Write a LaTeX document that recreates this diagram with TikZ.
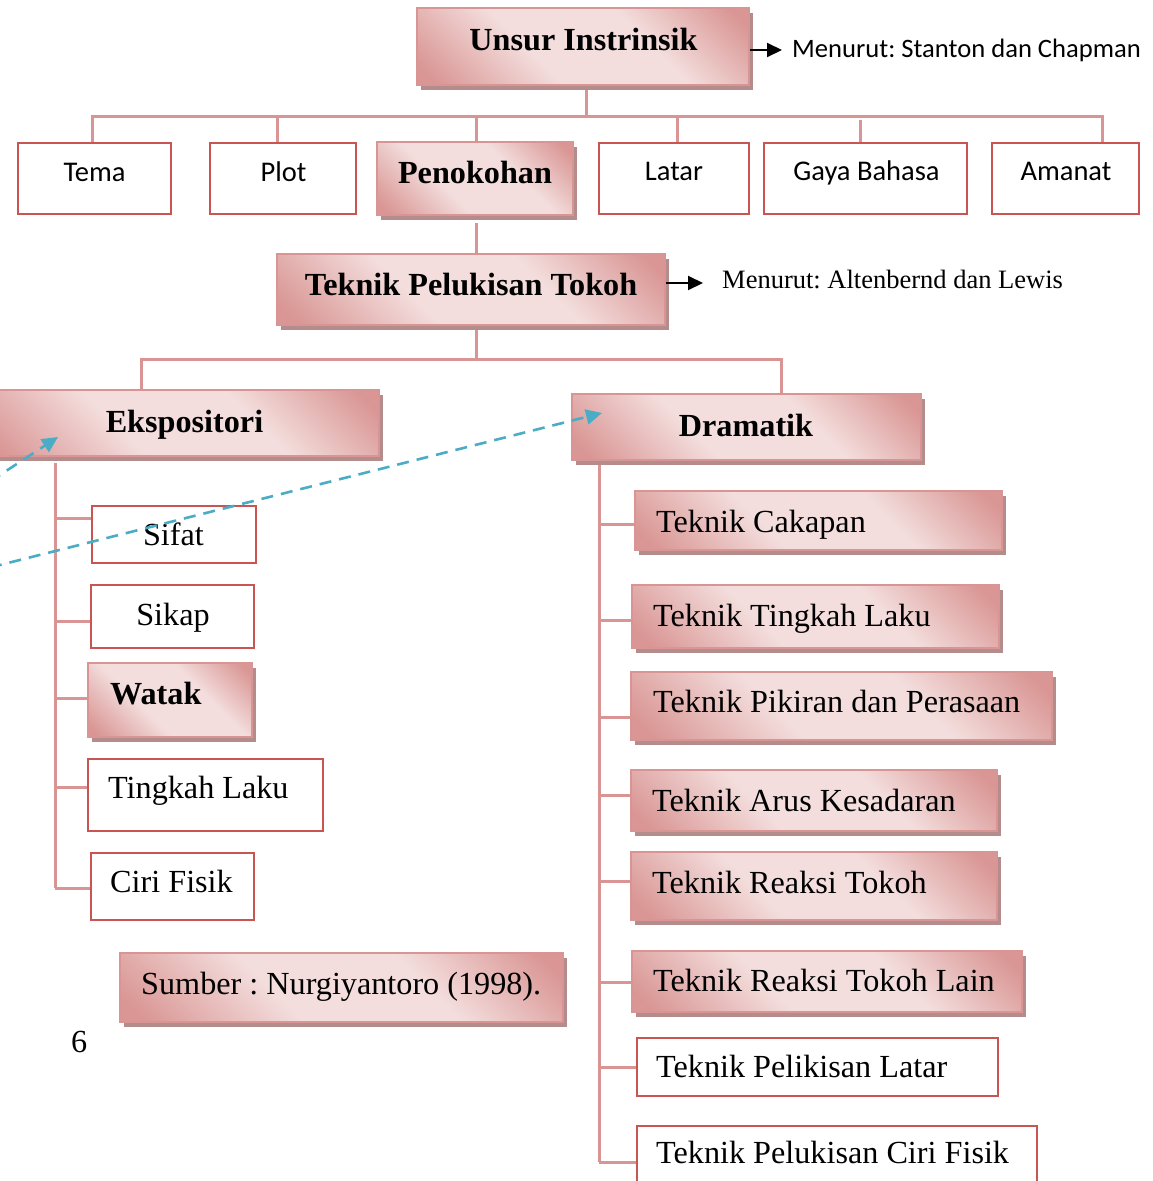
\documentclass[tikz,border=0pt]{standalone}
\usepackage{fontspec}
\setmainfont{Liberation Serif}
\newfontfamily\calib{Carlito}
\usetikzlibrary{fit,arrows.meta}
\definecolor{pkd}{RGB}{217,150,148}
\definecolor{pkl}{RGB}{243,222,221}
\definecolor{pkb}{RGB}{217,149,148}
\definecolor{shc}{RGB}{180,140,140}
\definecolor{cn}{RGB}{217,149,148}
\definecolor{pr}{RGB}{200,85,82}
\definecolor{bl}{RGB}{75,172,198}
\pgfdeclareverticalshading{pinkgrad}{100bp}{color(0bp)=(pkd); color(18bp)=(pkd); color(40bp)=(pkl); color(62bp)=(pkl); color(82bp)=(pkd); color(100bp)=(pkd)}
\pgfdeclarelayer{background}
\pgfsetlayers{background,main}
\newcommand\shbox[5]{\fill[shd] ({#2+4},{#3+5}) rectangle ({#4+4},{#5+5});
  \node[sbox, fit={(#2,#3) (#4,#5)}] (#1) {};}
\newcommand\plbox[5]{\node[pbox, fit={(#2,#3) (#4,#5)}] (#1) {};}
\frenchspacing
\begin{document}
\begin{tikzpicture}[x=1pt,y=-1pt,
  conn/.style={draw=cn, line width=3pt},
  pbox/.style={draw=pr, line width=1.3pt, fill=white, inner sep=0pt},
  sbox/.style={draw=pkb, line width=2.2pt, shade, shading=pinkgrad, shading angle=-45, inner sep=0pt},
  shd/.style={fill=shc},
  ser/.style={font=\frenchspacing\fontsize{32.2}{38}\selectfont, inner sep=0pt},
  serb/.style={font=\frenchspacing\bfseries\fontsize{32.2}{38}\selectfont, inner sep=0pt},
  sern/.style={font=\frenchspacing\fontsize{26.5}{32}\selectfont, inner sep=0pt},
  cal/.style={font=\frenchspacing\calib\fontsize{28.5}{34}\selectfont, inner sep=0pt},
  caln/.style={font=\frenchspacing\calib\fontsize{26.6}{32}\selectfont, inner sep=0pt},
  blk/.style={draw=black, line width=2pt, -{Triangle[length=15pt,width=14pt]}},
  blue/.style={draw=bl, line width=2.6pt, dash pattern=on 12pt off 8pt, -{Triangle[length=16pt,width=15pt]}}]
\useasboundingbox (0,0) rectangle (1152,1181);

% boxes
\shbox{unsur}{417}{8}{749}{85}
\plbox{tema}{18}{143}{171}{214}
\plbox{plot}{210}{143}{356}{214}
\shbox{peno}{377}{142}{573}{215}
\plbox{latar}{599}{143}{749}{214}
\plbox{gaya}{764}{143}{967}{214}
\plbox{amanat}{992}{143}{1139}{214}
\shbox{tpt}{277}{254}{665}{325}
\shbox{eksp}{-20}{390}{379}{456}
\shbox{dram}{572}{394}{921}{460}
\plbox{sifat}{92}{506}{256}{563}
\plbox{sikap}{91}{585}{254}{648}
\shbox{watak}{88}{663}{252}{737}
\plbox{tingkah}{88}{759}{323}{831}
\plbox{ciri}{91}{853}{254}{920}
\shbox{sumber}{120}{953}{563}{1022}
\shbox{cak}{635}{491}{1002}{550}
\shbox{tl}{632}{585}{999}{648}
\shbox{pik}{631}{672}{1052}{740}
\shbox{arus}{631}{770}{997}{831}
\shbox{reak}{631}{852}{997}{920}
\shbox{lain}{632}{951}{1022}{1012}
\plbox{platar}{637}{1038}{998}{1096}
\plbox{pciri}{637}{1126}{1037}{1200}

% texts
\node[serb, anchor=base] (unsurT) at (583.5,50) {Unsur Instrinsik};
\node[caln, anchor=base west] (note1) at (792,57) {Menurut: Stanton dan Chapman};
\node[cal, anchor=base] (temaT) at (94.5,181) {Tema};
\node[cal, anchor=base] (plotT) at (283.5,181) {Plot};
\node[serb, anchor=base] (penoT) at (475,183) {Penokohan};
\node[cal, anchor=base] (latarT) at (674,180) {Latar};
\node[cal, anchor=base] (gayaT) at (866.5,180) {Gaya Bahasa};
\node[cal, anchor=base] (amanatT) at (1066,180) {Amanat};
\node[serb, anchor=base] (tptT) at (471,295) {Teknik Pelukisan Tokoh};
\node[sern, anchor=base west] (note2) at (722,288) {Menurut: Altenbernd dan Lewis};
\node[serb, anchor=base] (ekspT) at (184.5,432) {Ekspositori};
\node[serb, anchor=base] (dramT) at (746,436) {Dramatik};
\node[ser, anchor=base] (sifatT) at (173.5,545) {Sifat};
\node[ser, anchor=base] (sikapT) at (173,625) {Sikap};
\node[serb, anchor=base west] (watakT) at (110,704) {Watak};
\node[ser, anchor=base west] (tingkahT) at (108,798) {Tingkah Laku};
\node[ser, anchor=base west] (ciriT) at (110,892) {Ciri Fisik};
\node[ser, anchor=base west] (sumberT) at (141,994) {Sumber : Nurgiyantoro (1998).};
\node[ser, anchor=base west] (pagenum) at (71,1052) {6};
\node[ser, anchor=base west] (cakT) at (656,532) {Teknik Cakapan};
\node[ser, anchor=base west] (tlT) at (653,626) {Teknik Tingkah Laku};
\node[ser, anchor=base west] (pikT) at (653,712) {Teknik Pikiran dan Perasaan};
\node[ser, anchor=base west] (arusT) at (652,811) {Teknik Arus Kesadaran};
\node[ser, anchor=base west] (reakT) at (652,893) {Teknik Reaksi Tokoh};
\node[ser, anchor=base west] (lainT) at (653,991) {Teknik Reaksi Tokoh Lain};
\node[ser, anchor=base west] (platarT) at (656,1077) {Teknik Pelikisan Latar};
\node[ser, anchor=base west] (pciriT) at (656,1163) {Teknik Pelukisan Ciri Fisik};

% connectors
\begin{pgfonlayer}{background}
\coordinate (bus1) at (586,116);
\coordinate (u1) at ([xshift=3pt]unsur.south);
\coordinate (t1) at ([xshift=-2.5pt]tema.north);
\coordinate (pl1) at ([xshift=-6pt]plot.north);
\coordinate (pe1) at ([xshift=1pt]peno.north);
\coordinate (la1) at ([xshift=3pt]latar.north);
\coordinate (ga1) at ([xshift=-5.5pt]gaya.north);
\coordinate (am1) at ([xshift=36.5pt]amanat.north);
\draw[conn] (u1) -- (u1 |- bus1);
\draw[conn] (t1) |- (bus1) -| (am1);
\draw[conn] (pl1) -- (pl1 |- bus1);
\draw[conn] (pe1) -- (pe1 |- bus1);
\draw[conn] (la1) -- (la1 |- bus1);
\draw[conn] (ga1) -- ++(0,-22);
\coordinate (pe2) at ([xshift=1pt]peno.south);
\draw[conn] (pe2) ++(0,7) -- (pe2 |- tpt.north);
\coordinate (bus2) at (476,359);
\coordinate (tp1) at ([xshift=5pt]tpt.south);
\coordinate (ek1) at ([xshift=-38.5pt]eksp.north);
\coordinate (dr1) at ([xshift=34.5pt]dram.north);
\draw[conn] (tp1) -- (tp1 |- bus2);
\draw[conn] (ek1) |- (bus2) -| (dr1);
% Ekspositori branches
\coordinate (ev) at (55,463);
\coordinate (sifb) at ([yshift=16.5pt]sifat.west);
\coordinate (sikb) at ([yshift=-4.5pt]sikap.west);
\coordinate (watb) at ([yshift=2pt]watak.west);
\coordinate (tinb) at ([yshift=8pt]tingkah.west);
\coordinate (cirb) at ([yshift=-1.5pt]ciri.west);
\draw[conn] (ev) -- (ev |- cirb);
\draw[conn] (ev |- sifb) -- (sifb);
\draw[conn] (ev |- sikb) -- (sikb);
\draw[conn] (ev |- watb) -- (watb);
\draw[conn] (ev |- tinb) -- (tinb);
\draw[conn] (ev |- cirb) -- (cirb);
% Dramatik branches
\coordinate (dv) at (599,463);
\coordinate (cakb) at ([yshift=-3.5pt]cak.west);
\coordinate (tlb) at ([yshift=-3.5pt]tl.west);
\coordinate (pikb) at ([yshift=-11pt]pik.west);
\coordinate (arub) at ([yshift=5.5pt]arus.west);
\coordinate (reab) at ([yshift=5pt]reak.west);
\coordinate (laib) at ([yshift=-0.5pt]lain.west);
\coordinate (plab) at (platar.west);
\coordinate (pcib) at ([yshift=1pt]pciri.west);
\draw[conn] (dv) -- (dv |- pcib);
\foreach \b in {cakb,tlb,pikb,arub,reab,laib,plab,pcib}{\draw[conn] (dv |- \b) -- (\b);}
\end{pgfonlayer}

% black arrows
\coordinate (a1) at (782,50);
\draw[blk] (unsur.east |- a1) -- (a1);
\coordinate (a2) at (703,283);
\draw[blk] (tpt.east |- a2) -- (a2);

% blue dashed arrows
\coordinate (bs1) at (-10,481.5);
\coordinate (be1) at (58,437);
\coordinate (bs2) at (-10,567.5);
\coordinate (be2) at (602,413);
\draw[blue] (bs1) -- (be1);
\draw[blue] (bs2) -- (be2);
\end{tikzpicture}
\end{document}
